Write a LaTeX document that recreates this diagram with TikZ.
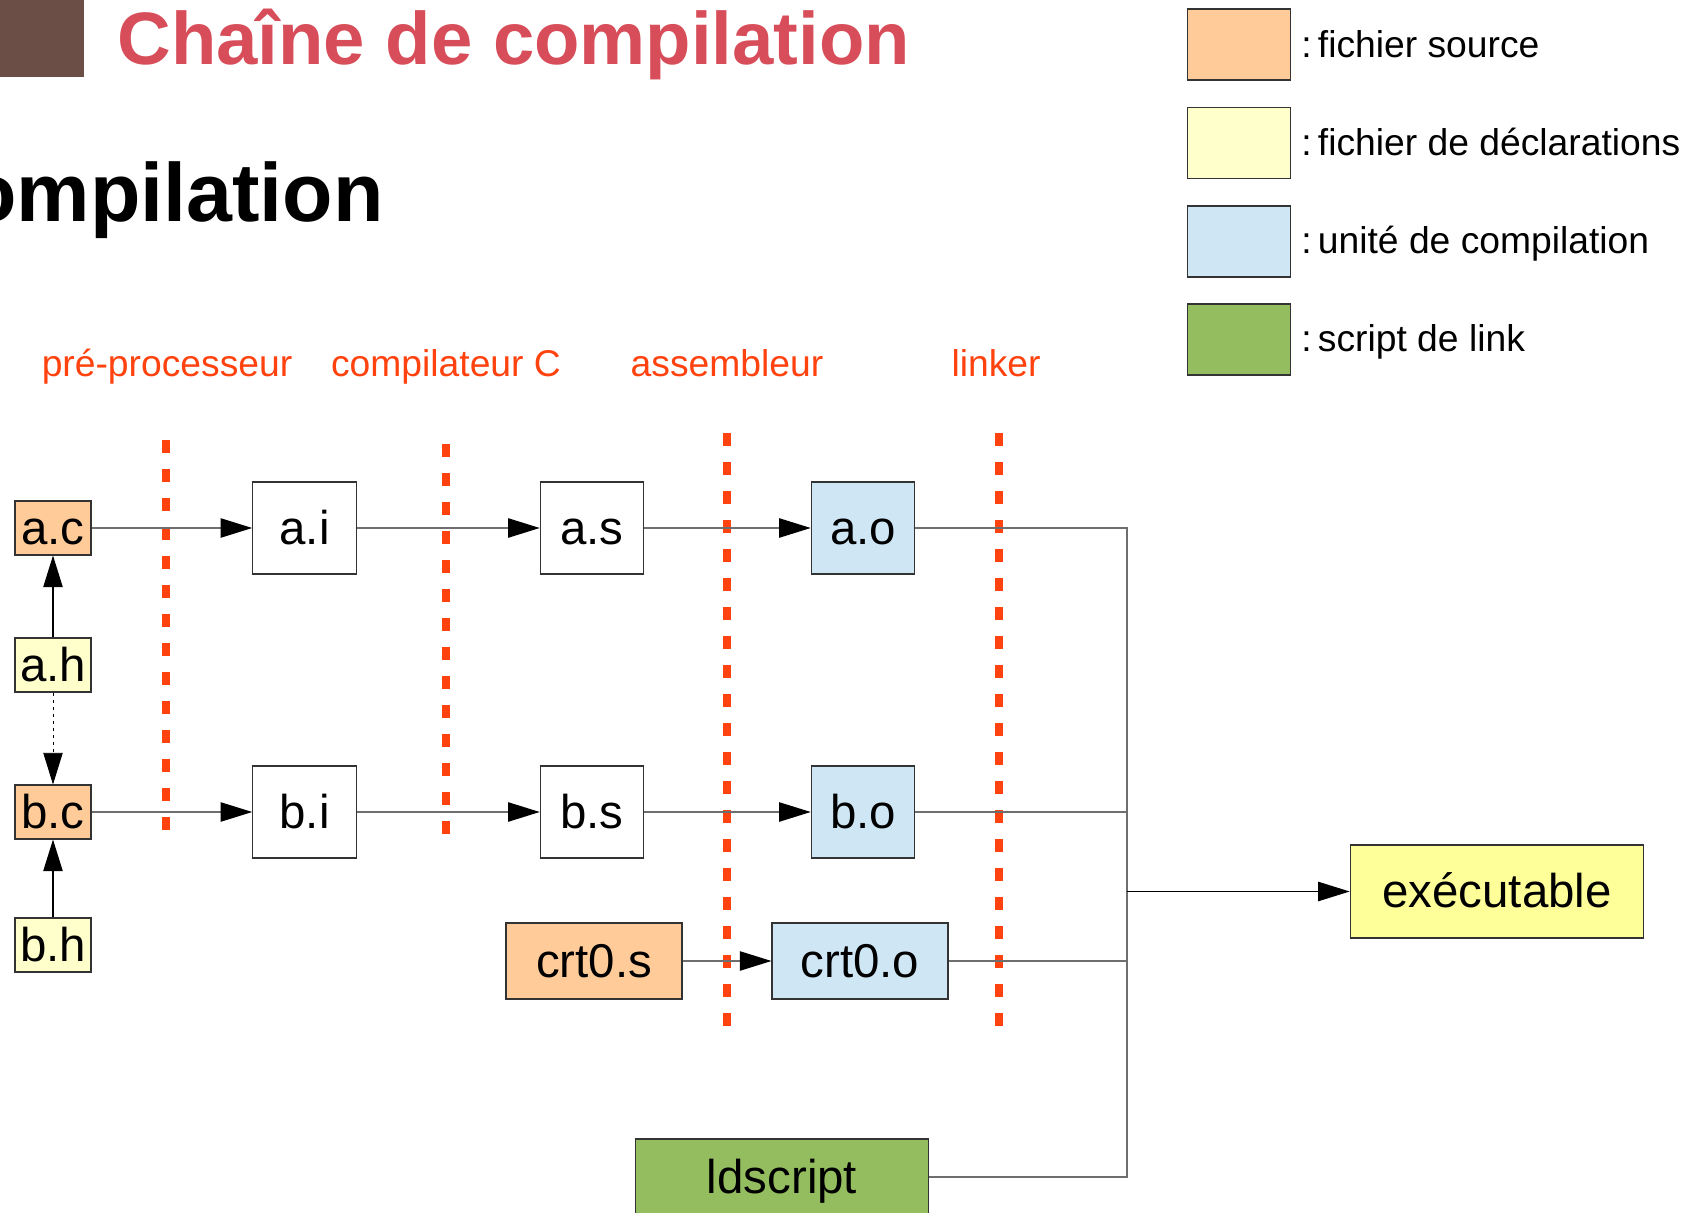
\documentclass[tikz,border=0pt]{standalone}
\usepackage{fontspec}
\setmainfont{Liberation Sans}
\usepackage{xcolor}
\usepackage{tikz}
\usetikzlibrary{arrows.meta, positioning}
\definecolor{titlered}{HTML}{D74E5A}
\definecolor{titlebrown}{HTML}{6B4F47}
\definecolor{stagered}{HTML}{FF420E}
\definecolor{srcorange}{HTML}{FFCC99}
\definecolor{declyellow}{HTML}{FFFFCC}
\definecolor{unitblue}{HTML}{CFE7F5}
\definecolor{linkgreen}{HTML}{93BD5E}
\definecolor{exeyellow}{HTML}{FFFF99}
\definecolor{wiregray}{HTML}{6E6E6E}
\newcommand{\filefont}{\fontsize{27}{32}\selectfont}
\newcommand{\notefont}{\fontsize{21.2}{25}\selectfont}
\tikzstyle{file} = [rectangle, draw=black!80, line width=0.6pt, inner sep=0pt, text height=23pt, text depth=4.3pt, text centered, font=\filefont]
\tikzstyle{small} = [file, minimum width=1.52cm, minimum height=1.08cm]
\tikzstyle{mid} = [file, minimum width=2.07cm, minimum height=1.84cm]
\tikzstyle{wide} = [file, minimum width=3.52cm, minimum height=1.52cm]
\tikzstyle{big} = [file, minimum width=5.87cm, minimum height=1.86cm]
\tikzstyle{arrow} = [line width=0.8pt, draw=wiregray, -{Triangle[length=18pt, width=11pt, color=black]}]
\tikzstyle{include} = [arrow, draw=black]
\tikzstyle{maybe} = [include, line width=0.5pt, dash pattern=on 2pt off 2pt]
\tikzstyle{wire} = [line width=0.8pt, draw=wiregray]
\tikzstyle{separator} = [draw=stagered, line width=4.2pt, dash pattern=on 7.6pt off 8.9pt]
\tikzstyle{stagelabel} = [text=stagered, font=\notefont, anchor=base, inner sep=0pt]
\tikzstyle{legendbox} = [rectangle, draw=black!80, line width=0.6pt, minimum width=2.06cm, minimum height=1.42cm]
\tikzstyle{legendtext} = [font=\notefont, anchor=base west, inner sep=0pt]

\begin{document}
\begin{tikzpicture}[x=0.02cm, y=-0.02cm]
\useasboundingbox (0,0) rectangle (1705,1213);

% title
\fill[titlebrown] (0,0) rectangle (84,77);
\node [anchor=base west, inner sep=0pt, text=titlered, font=\fontsize{42.3}{50}\selectfont\bfseries] (title) at (117,65) {Chaîne de compilation};
\node [anchor=base east, inner sep=0pt, font=\fontsize{47}{56}\selectfont\bfseries] (subtitle) at (384,222) {ompilation};

% legend
\node [legendbox, fill=srcorange] (keysrc) at (1239,44.5) {};
\node [legendbox, fill=declyellow] (keydecl) at (1239,143) {};
\node [legendbox, fill=unitblue] (keyunit) at (1239,241.5) {};
\node [legendbox, fill=linkgreen] (keylink) at (1239,339.5) {};
\node [legendtext] (txtsrc) at (1301,58) {:\,fichier source};
\node [legendtext] (txtdecl) at (1301,156) {:\,fichier de déclarations};
\node [legendtext] (txtunit) at (1301,254) {:\,unité de compilation};
\node [legendtext] (txtlink) at (1301,352) {:\,script de link};

% stages
\node [stagelabel] (prep) at (167,377) {pré-processeur};
\node [stagelabel] (comp) at (446,377) {compilateur C};
\node [stagelabel] (asm) at (727,377) {assembleur};
\node [stagelabel] (lnk) at (996,377) {linker};
\draw [separator] (166,440) -- (166,842);
\draw [separator] (446,444) -- (446,846);
\draw [separator] (727,433) -- (727,1037);
\draw [separator] (999,433) -- (999,1037);

% files
\node [small, fill=srcorange] (ac) at (53,528) {a.c};
\node [small, fill=declyellow] (ah) at (53,665) {a.h};
\node [small, fill=srcorange] (bc) at (53,812) {b.c};
\node [small, fill=declyellow] (bh) at (53,945) {b.h};
\node [mid, fill=white] (ai) at (304.5,528) {a.i};
\node [mid, fill=white] (bi) at (304.5,812) {b.i};
\node [mid, fill=white] (as) at (592,528) {a.s};
\node [mid, fill=white] (bs) at (592,812) {b.s};
\node [mid, fill=unitblue] (ao) at (863,528) {a.o};
\node [mid, fill=unitblue] (bo) at (863,812) {b.o};
\node [wide, fill=srcorange] (crts) at (594,961) {crt0.s};
\node [wide, fill=unitblue] (crto) at (860,961) {crt0.o};
\node [big, fill=linkgreen, minimum width=5.86cm, minimum height=1.52cm] (lds) at (782,1177) {ldscript};
\node [big, fill=exeyellow] (exe) at (1497,891.5) {exécutable};
\coordinate (bus) at (1127,891.5);

% connectors
\draw [include] (ah) -- (ac);
\draw [maybe] (ah) -- (bc);
\draw [include] (bh) -- (bc);
\draw [arrow] (ac) -- (ai);
\draw [arrow] (bc) -- (bi);
\draw [arrow] (ai) -- (as);
\draw [arrow] (bi) -- (bs);
\draw [arrow] (as) -- (ao);
\draw [arrow] (bs) -- (bo);
\draw [arrow] (crts) -- (crto);
\draw [wire] (ao) -| (bus);
\draw [wire] (bo) -| (bus);
\draw [wire] (crto) -| (bus);
\draw [wire] (lds) -| (bus);
\draw [include] (bus) -- (exe);
\end{tikzpicture}
\end{document}
